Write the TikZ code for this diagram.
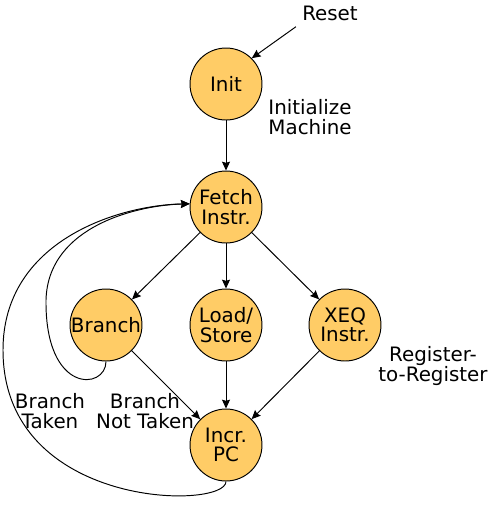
\documentclass[tikz,border=0pt]{standalone}
\usepackage{fontspec}
\setmainfont{DejaVu Sans}
\usetikzlibrary{arrows.meta}
\definecolor{statefill}{RGB}{255,204,102}

\begin{document}
\begin{tikzpicture}[x=0.02cm,y=-0.02cm,->,>={Stealth[length=5pt,width=4.5pt,inset=0.6pt]},
  every node/.style={font=\fontsize{11.3}{11}\selectfont,align=center},
  state/.style={circle,draw,fill=statefill,minimum size=1.44cm,inner sep=0pt}]
\useasboundingbox (0,0) rectangle (493,508);
\tikzset{every path/.style={line width=0.55pt}}

\node[state](init) at (226,84) {Init};
\node[state](fetch) at (226,207) {Fetch\\Instr.};
\node[state](branch) at (106,325) {Branch};
\node[state](ldst) at (226,325) {Load/\\Store};
\node[state](xeq) at (345,325) {XEQ\\Instr.};
\node[state](incr) at (226,445) {Incr.\\PC};

\node(reset) at (330,13) {Reset};
\node(initlbl) at (310,117) {Initialize\\Machine};
\node(rrlbl) at (433,366) {Register-\\to-Register};
\node(takenlbl) at (50,411) {Branch\\Taken};
\node(ntakenlbl) at (145,411) {Branch\\Not Taken};

\draw (reset.south west) -- (init.north east);
\draw (init) -- (fetch);
\draw (fetch) -- (branch);
\draw (fetch) -- (ldst);
\draw (fetch) -- (xeq);
\draw (branch) -- (incr);
\draw (ldst) -- (incr);
\draw (xeq) -- (incr);

% branch taken
\draw (branch.south) .. controls (106,390) and (45,395) .. (46,300)
  .. controls (48,225) and (140,205) .. (fetch.175);
% back from incr
\draw (incr.south) .. controls (226,510) and (3,510) .. (3,350)
  .. controls (3,240) and (120,205) .. (fetch.175);
\end{tikzpicture}
\end{document}
